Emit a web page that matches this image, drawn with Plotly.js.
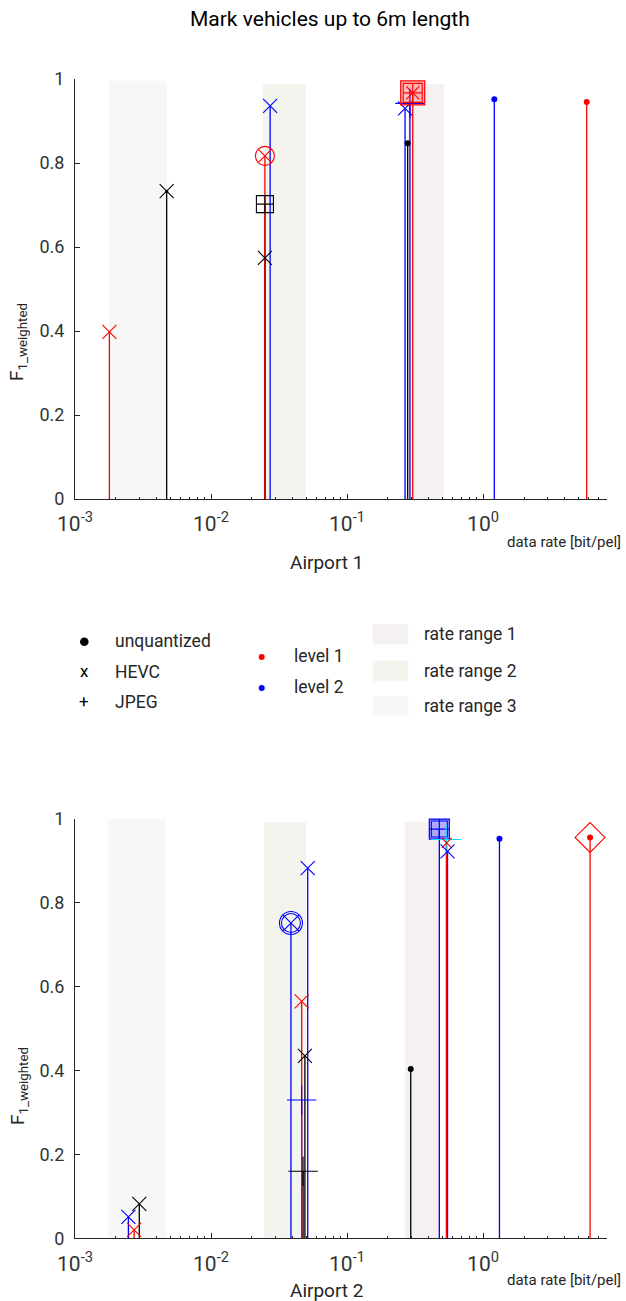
<!DOCTYPE html>
<html><head><meta charset="utf-8">
<script src="https://cdn.plot.ly/plotly-3.0.1.min.js"></script>
<style>html,body{margin:0;padding:0;background:#fff}#chart{width:626px;height:1301px}</style>
</head><body><div id="chart"></div>
<script>
// ---------- data ----------
const tickVals = [0.001, 0.01, 0.1, 1];
const tickText = ['10<sup>-3</sup>', '10<sup>-2</sup>', '10<sup>-1</sup>', '10<sup>0</sup>'];
const yTickVals = [0, 0.2, 0.4, 0.6, 0.8, 1];
const yTickText = ['0', '0.2', '0.4', '0.6', '0.8', '1'];

// Airport 1
const a1Rate  = [0.00179, 0.00472, 0.0249, 0.0249, 0.0249, 0.0272, 0.267, 0.279, 0.29, 0.304, 1.21, 5.78];
const a1F1    = [0.398, 0.733, 0.817, 0.702, 0.574, 0.936, 0.930, 0.847, 0.942, 0.967, 0.952, 0.945];
const a1Color = ['red', 'black', 'red', 'black', 'black', 'blue', 'blue', 'black', 'blue', 'red', 'blue', 'red'];
const a1Mark  = ['x', 'xdot', 'circx', 'sqplus', 'x', 'x', 'x', 'dot', 'plus', 'sqdbl', 'dot', 'dot'];

// Airport 2
const a2Rate  = [0.00247, 0.00272, 0.00297, 0.0387, 0.0514, 0.0464, 0.049, 0.0464, 0.0475, 0.294, 0.477, 0.535, 0.54, 0.548, 1.32, 6.12];
const a2F1    = [0.051, 0.020, 0.082, 0.752, 0.883, 0.565, 0.435, 0.330, 0.160, 0.404, 0.976, 0.951, 0.943, 0.923, 0.953, 0.956];
const a2Color = ['blue', 'red', 'black', 'blue', 'blue', 'red', 'black', 'blue', 'black', 'black', 'blue', 'cyan', 'red', 'blue', 'blue', 'red'];
const a2Mark  = ['x', 'x', 'x', 'circx2', 'x', 'x', 'x', 'plus', 'plus', 'dot', 'sqfill', 'plus', 'xs', 'x', 'dot', 'diamond'];

// rate ranges
const rangeNames  = ['rate range 1', 'rate range 2', 'rate range 3'];
const a1RangeLo   = [0.279, 0.024, 0.00177];
const a1RangeHi   = [0.516, 0.0497, 0.00475];
const a1RangeTop  = [0.988, 0.988, 0.996];
const a2RangeLo   = [0.266, 0.0245, 0.00174];
const a2RangeHi   = [0.483, 0.0500, 0.00467];
const a2RangeTop  = [0.994, 0.993, 1.0];

const methodNames = ['unquantized', 'HEVC', 'JPEG'];
const levelNames  = ['level 1', 'level 2'];
const panelNames  = ['Airport 1', 'Airport 2'];
const chartTitle  = 'Mark vehicles up to 6m length';

// ---------- styles ----------
const W = 626, H = 1301;
const FONT = 'Roboto, Arial, sans-serif';
const COL = {red: '#FF0000', blue: '#0000FF', black: '#000000', cyan: '#00E5FF'};
const FILL = {red: 'rgba(255,0,0,0.25)', blue: 'rgba(0,0,255,0.3)', black: 'rgba(0,0,0,0.2)', cyan: 'rgba(0,255,255,0.3)'};
const rangeColors = ['#F5F1F1', '#F4F4EE', '#F7F7F7'];
const MARKS = {
  dot:    [{s: 'circle', z: 6}],
  x:      [{s: 'x-thin-open', z: 14}],
  xs:     [{s: 'x-thin-open', z: 10}],
  xdot:   [{s: 'x-thin-open', z: 14}, {s: 'circle', z: 3}],
  plus:   [{s: 'cross-thin-open', z: 21}],
  circx:  [{s: 'circle-x-open', z: 19}],
  circx2: [{s: 'circle-x-open', z: 23}, {s: 'circle-open', z: 19}],
  sqplus: [{s: 'square-cross-open', z: 17}],
  sqdbl:  [{s: 'square', z: 24, fill: true}, {s: 'square-cross-open', z: 19}, {s: 'x-thin-open', z: 13}],
  sqfill: [{s: 'square-cross', z: 20, fill: true}, {s: 'square-open', z: 16}],
  diamond:[{s: 'diamond-open', z: 23}, {s: 'circle', z: 6}]
};
const stemOrder = ['blue', 'black', 'cyan', 'red'];

function px(x) { return x / W; }
function py(y) { return 1 - y / H; }

function panelTraces(rate, f1, color, mark, xa, ya) {
  const traces = [];
  stemOrder.forEach(c => {
    const xs = [], ys = [];
    rate.forEach((r, i) => { if (color[i] === c) { xs.push(r, r, null); ys.push(0, f1[i], null); } });
    if (xs.length) traces.push({x: xs, y: ys, xaxis: xa, yaxis: ya, mode: 'lines', type: 'scatter',
      line: {color: COL[c], width: 1.3}, hoverinfo: 'skip', showlegend: false});
  });
  rate.forEach((r, i) => {
    MARKS[mark[i]].forEach(m => {
      const mk = {symbol: m.s, size: m.z};
      if (m.fill) { mk.color = FILL[color[i]]; mk.line = {color: COL[color[i]], width: 1.2}; }
      else if (m.s === 'circle') { mk.color = COL[color[i]]; mk.line = {width: 0}; }
      else { mk.color = COL[color[i]]; mk.line = {width: 1.1}; }
      traces.push({x: [r], y: [f1[i]], xaxis: xa, yaxis: ya, mode: 'markers', type: 'scatter',
        marker: mk, hoverinfo: 'x+y', showlegend: false, cliponaxis: false});
    });
  });
  return traces;
}

const traces = [].concat(
  panelTraces(a1Rate, a1F1, a1Color, a1Mark, 'x', 'y'),
  panelTraces(a2Rate, a2F1, a2Color, a2Mark, 'x2', 'y2')
);

const minorVals = [];
[0.001, 0.01, 0.1, 1].forEach(d => { for (let k = 2; k <= 9; k++) minorVals.push(d * k); });

function xAxis(anchor) {
  return {
    type: 'log', range: [-3, 0.909], domain: [px(75), px(606.7)], anchor: anchor,
    tickmode: 'array', tickvals: tickVals, ticktext: tickText,
    ticks: 'inside', ticklen: 5, tickwidth: 1, tickcolor: '#262626',
    minor: {tickmode: 'array', tickvals: minorVals, ticks: 'inside', ticklen: 2.5, tickcolor: '#262626', showgrid: false},
    showline: true, linecolor: '#262626', linewidth: 1, showgrid: false, zeroline: false,
    tickfont: {family: FONT, size: 21, color: '#333333'}, ticklabelstandoff: 6, fixedrange: true
  };
}
function yAxis(anchor, top, bottom) {
  return {
    range: [0, 1], domain: [py(bottom), py(top)], anchor: anchor,
    tickmode: 'array', tickvals: yTickVals, ticktext: yTickText,
    ticks: 'inside', ticklen: 5, tickwidth: 1, tickcolor: '#262626',
    showline: true, linecolor: '#262626', linewidth: 1, showgrid: false, zeroline: false,
    tickfont: {family: FONT, size: 18, color: '#333333'}, ticklabelstandoff: 6, fixedrange: true
  };
}

const shapes = [];
function addRanges(lo, hi, top, xr, yr) {
  lo.forEach((l, i) => shapes.push({type: 'rect', xref: xr, yref: yr, x0: l, x1: hi[i], y0: 0, y1: top[i],
    fillcolor: rangeColors[i], line: {width: 0}, layer: 'below'}));
}
addRanges(a1RangeLo, a1RangeHi, a1RangeTop, 'x', 'y');
addRanges(a2RangeLo, a2RangeHi, a2RangeTop, 'x2', 'y2');

const annotations = [];
function txt(text, x, y, size, opts) {
  annotations.push(Object.assign({text: text, x: px(x), y: py(y), xref: 'paper', yref: 'paper',
    showarrow: false, font: {family: FONT, size: size, color: '#262626'}, xanchor: 'center', yanchor: 'middle'}, opts || {}));
}
txt(chartTitle, 330, 19, 21, {font: {family: FONT, size: 21, color: '#000'}});
txt(panelNames[0], 326, 562, 19);
txt(panelNames[1], 326, 1290, 19);
txt('data rate [bit/pel]', 623, 542, 15, {xanchor: 'right'});
txt('data rate [bit/pel]', 623, 1280, 15, {xanchor: 'right'});
txt('F<sub>1_weighted</sub>', 18, 342, 19, {textangle: -90});
txt('F<sub>1_weighted</sub>', 18, 1086, 19, {textangle: -90});

// legend
const legY = [641, 672, 702];
shapes.push({type: 'circle', xref: 'paper', yref: 'paper', x0: px(80), x1: px(88.6), y0: py(646), y1: py(637.4),
  fillcolor: '#000', line: {width: 0}});
txt('x', 84, 671, 17, {font: {family: FONT, size: 17, color: '#000'}});
txt('+', 84, 701, 17, {font: {family: FONT, size: 17, color: '#000'}});
methodNames.forEach((n, i) => txt(n, 113, legY[i], 17.5, {xanchor: 'left'}));
const levY = [657, 688];
[COL.red, COL.blue].forEach((c, i) => shapes.push({type: 'circle', xref: 'paper', yref: 'paper',
  x0: px(258.7), x1: px(264.7), y0: py(levY[i] + 3), y1: py(levY[i] - 3), fillcolor: c, line: {width: 0}}));
levelNames.forEach((n, i) => txt(n, 292, levY[i] - 1, 17.5, {xanchor: 'left'}));
const boxTop = [624, 660.7, 696];
rangeNames.forEach((n, i) => {
  shapes.push({type: 'rect', xref: 'paper', yref: 'paper', x0: px(372.7), x1: px(408.3),
    y0: py(boxTop[i] + 20.5), y1: py(boxTop[i]), fillcolor: rangeColors[i], line: {width: 0}});
  txt(n, 421.5, boxTop[i] + 10, 17.5, {xanchor: 'left'});
});

const layout = {
  width: W, height: H, margin: {l: 0, r: 0, t: 0, b: 0},
  paper_bgcolor: '#fff', plot_bgcolor: 'rgba(0,0,0,0)',
  font: {family: FONT}, showlegend: false,
  xaxis: xAxis('y'), yaxis: yAxis('x', 79, 499),
  xaxis2: xAxis('y2'), yaxis2: yAxis('x2', 819, 1238.3),
  shapes: shapes, annotations: annotations
};

Plotly.newPlot('chart', traces, layout, {displayModeBar: false, staticPlot: true});
</script></body></html>
